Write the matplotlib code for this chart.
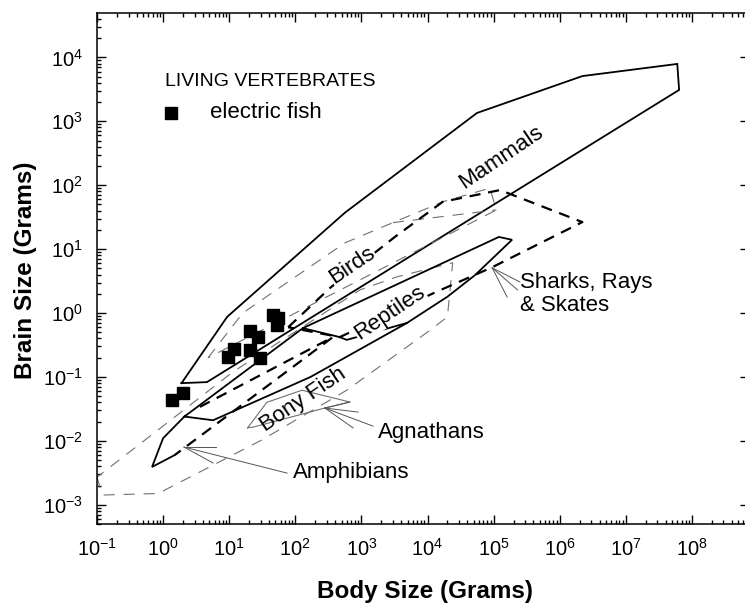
import matplotlib
matplotlib.use("Agg")
import matplotlib.pyplot as plt
from matplotlib.ticker import LogLocator, LogFormatterSciNotation, NullFormatter

plt.rcParams['font.family'] = ['Liberation Sans', 'DejaVu Sans']
plt.rcParams['mathtext.fontset'] = 'custom'
plt.rcParams['mathtext.rm'] = 'Liberation Sans'
plt.rcParams['mathtext.it'] = 'Liberation Sans:italic'
plt.rcParams['mathtext.bf'] = 'Liberation Sans:bold'

# polygons of living vertebrates (body g, brain g)
mammals_x = [1.9, 9.3, 5.6e2, 5.6e4, 2.2e6, 6.0e7, 6.4e7, 4.6, 1.9]
mammals_y = [0.080, 0.87, 37, 1350, 5100, 7900, 3100, 0.083, 0.080]

birds_x = [4.8, 16, 5.6e2, 3.0e3, 1.7e4, 8.8e4, 1.1e5, 4.8]
birds_y = [0.20, 1.0, 12.5, 26, 55, 90, 41, 0.20]
birds_inner_x = [3.0e3, 1.1e5]
birds_inner_y = [26, 41]

bony_x = [0.1, 0.12, 0.84, 31, 6.0e2, 1.1e4, 2.0e4, 2.4e4, 3.5e3, 9.5e2, 11.4, 0.1]
bony_y = [0.0027, 0.00142, 0.0015, 0.0103, 0.062, 0.54, 0.87, 6.1, 3.7, 2.3, 0.12, 0.0027]

reptiles_x = [1.5, 0.68, 1.0, 2.1, 5.7, 1.7e2, 4.9e3, 2.0e4, 5.2e4, 1.9e5, 1.2e5, 1.3e2, 2.1]
reptiles_y = [0.006, 0.0039, 0.011, 0.024, 0.021, 0.10, 0.70, 1.8, 3.9, 14, 15.5, 0.58, 0.024]
reptiles_notch_x = [1.3e2, 4.7e2, 6.0e2, 4.9e3]
reptiles_notch_y = [0.58, 0.42, 0.38, 0.70]

sharks_x = [78, 3.4e2, 3.2e3, 1.7e4, 1.25e5, 2.2e6, 9.5e4, 1.3e4, 4.7e2, 78]
sharks_y = [0.60, 2.5, 15.5, 55, 84, 26.5, 5.2, 2.1, 0.42, 0.60]

amphib_x = [3.6, 3.7e2, 1.5]
amphib_y = [0.034, 0.42, 0.006]

agnath_x = [19, 37, 1.26e2, 6.7e2, 2.8e2, 23, 19]
agnath_y = [0.016, 0.040, 0.062, 0.0405, 0.0326, 0.0164, 0.016]

# label pointer fans: origin then end points
sharks_ptr_x = [9.5e4, 2.5e5, 2.3e5, 1.6e5]
sharks_ptr_y = [5.1, 3.06, 2.3, 1.78]
agnath_ptr_x = [2.8e2, 6.7e2, 8.9e2, 7.5e2, 1.5e3]
agnath_ptr_y = [0.0326, 0.0405, 0.0282, 0.0159, 0.017]
amphib_ptr_x = [2.07, 6.3, 5.7, 75]
amphib_ptr_y = [0.008, 0.008, 0.0045, 0.00313]

# electric fish
fish_x = [1.37, 2.0, 9.6, 11.8, 20.7, 27, 20.7, 29, 46, 55, 53]
fish_y = [0.0435, 0.056, 0.205, 0.27, 0.52, 0.42, 0.26, 0.20, 0.93, 0.84, 0.65]

fig = plt.figure(figsize=(7.45, 6.08), dpi=100)
ax = fig.add_axes([97 / 745, 1 - 524 / 608, 652 / 745, 511 / 608])
ax.set_xscale('log')
ax.set_yscale('log')

solid = dict(color='black', lw=1.3, solid_joinstyle='miter')
thin_dash = dict(color='#707070', lw=0.8, ls=(0, (10, 8)))
thick_dash = dict(color='black', lw=1.6, ls=(0, (5, 3.5)))
ptr = dict(color='#555555', lw=0.7)

ax.plot(mammals_x, mammals_y, **solid)
ax.plot(birds_x, birds_y, **thin_dash)
ax.plot(birds_inner_x, birds_inner_y, **thin_dash)
ax.plot(bony_x, bony_y, **thin_dash)
ax.plot(reptiles_x, reptiles_y, **solid)
ax.plot(reptiles_notch_x, reptiles_notch_y, **solid)
ax.plot(sharks_x, sharks_y, **thick_dash)
ax.plot(amphib_x, amphib_y, **thick_dash)
ax.plot(agnath_x, agnath_y, color='#707070', lw=0.8)

for px, py in [(sharks_ptr_x, sharks_ptr_y), (agnath_ptr_x, agnath_ptr_y),
               (amphib_ptr_x, amphib_ptr_y)]:
    for ex, ey in zip(px[1:], py[1:]):
        ax.plot([px[0], ex], [py[0], ey], **ptr)

ax.plot(fish_x, fish_y, 's', color='black', ms=9, ls='none', zorder=5)

lab = dict(fontsize=16, ha='center', va='center', rotation=34, rotation_mode='anchor')
ax.text(1.3e5, 276, 'Mammals', **lab)
ax.text(7.2e2, 5.6, 'Birds', bbox=dict(fc='white', ec='none', pad=0.3), **lab)
ax.text(2.7e3, 1.0, 'Reptiles', bbox=dict(fc='white', ec='none', pad=0.3), **lab)
ax.text(1.3e2, 0.0435, 'Bony Fish', **lab)
ax.text(1.78e3, 0.0137, 'Agnathans', fontsize=16, ha='left', va='center')
ax.text(92, 0.00325, 'Amphibians', fontsize=16, ha='left', va='center')
ax.text(2.5e5, 1.98, 'Sharks, Rays\n& Skates', fontsize=16, ha='left', va='center',
        linespacing=1.1)

# legend block
ax.text(0.104, 0.865, 'LIVING VERTEBRATES', transform=ax.transAxes, fontsize=14,
        ha='left', va='center')
ax.plot([0.1135], [0.804], 's', color='black', ms=9, transform=ax.transAxes)
ax.text(0.173, 0.806, 'electric fish', transform=ax.transAxes, fontsize=16,
        ha='left', va='center')

ax.set_xlim(0.1, 7.3e8)
ax.set_ylim(5.0e-4, 4.95e4)

for axis in [ax.xaxis, ax.yaxis]:
    axis.set_major_locator(LogLocator(base=10, numticks=20))
    axis.set_minor_locator(LogLocator(base=10, subs=range(2, 10), numticks=20))
    axis.set_major_formatter(LogFormatterSciNotation())
    axis.set_minor_formatter(NullFormatter())

ax.tick_params(which='both', direction='in', top=True, right=True, width=1.0)
ax.tick_params(which='major', length=6.5, labelsize=14.5, pad=10)
ax.tick_params(which='minor', length=3.2)
for s in ax.spines.values():
    s.set_linewidth(1.1)

ax.set_xlabel('Body Size (Grams)', fontsize=17.5, fontweight='bold')
ax.set_ylabel('Brain Size (Grams)', fontsize=17.5, fontweight='bold')
ax.xaxis.set_label_coords(0.503, -0.133)
ax.xaxis.label.set_va('center')
ax.yaxis.set_label_coords(-0.110, 0.497)
ax.yaxis.label.set_va('center')

fig.savefig('out.png', dpi=100)
